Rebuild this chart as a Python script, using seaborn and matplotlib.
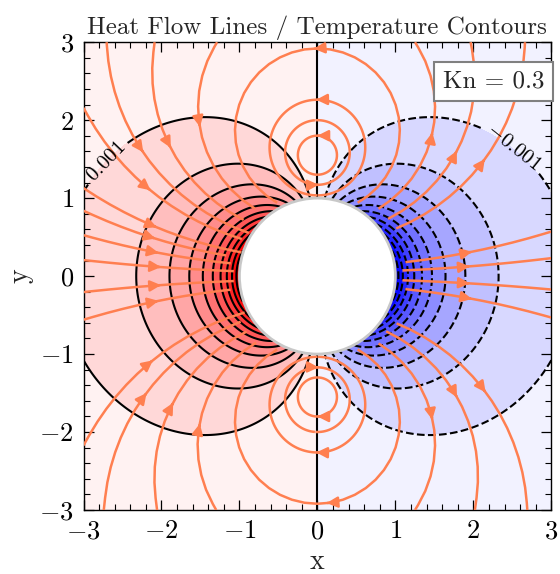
import numpy as np
import matplotlib
matplotlib.use("Agg")
import matplotlib.pyplot as plt
from matplotlib.patches import Circle
from matplotlib.ticker import AutoMinorLocator
import seaborn as sns

# ---- model parameters -------------------------------------------------
knudsen = 0.3
sphere_radius = 1.0
surface_amplitude = 0.0108      # temperature disturbance at the sphere pole
vortex_height = 1.53            # centres of the recirculating heat-flux cells

# contour levels of the temperature disturbance
positive_levels = [0.001, 0.002, 0.003, 0.004, 0.005,
                   0.006, 0.007, 0.008, 0.009, 0.010]
labelled_levels = [-0.001, 0.001]

# seed points of the open heat-flow lines (edge of the box <-> sphere)
seed_x = [-2.07, -2.10, -2.14, -2.12, -2.19, -2.27, -1.91, -1.48,
          -2.07, -2.10, -2.16, -2.23, -1.88, -1.48,
          1.89, 1.92, 1.40, 1.76, 2.11,
          1.89, 1.92, 1.40, 1.76, 2.12,
          0.0, 0.0]
seed_y = [0.12, 0.31, 0.50, 0.65, 1.14, 1.64, 1.70, 1.78,
          -0.12, -0.33, -1.12, -1.55, -1.68, -1.76,
          0.12, 0.30, 1.59, 1.55, 1.45,
          -0.09, -0.28, -1.59, -1.50, -1.44,
          2.92, -2.92]

# seed points of the closed cells around the two vortices
loop_seed_x = [0.0, 0.0, 0.0, 0.0, 0.0, 0.0]
loop_seed_y = [1.30, 2.00, 1.035, -1.30, -2.00, -1.035]

axis_ticks = [-3, -2, -1, 0, 1, 2, 3]

# ---- style --------------------------------------------------------------
sns.set_theme(style="ticks")
plt.rcParams.update({
    "font.family": "serif",
    "font.serif": ["cmr10"],
    "mathtext.fontset": "cm",
    "axes.formatter.use_mathtext": True,
    "axes.unicode_minus": True,
    "axes.edgecolor": "black",
    "axes.linewidth": 1.0,
    "xtick.color": "black",
    "ytick.color": "black",
})

# ---- fields -------------------------------------------------------------
x = np.linspace(-3, 3, 400)
y = np.linspace(-3, 3, 400)
X, Y = np.meshgrid(x, y)
R = np.hypot(X, Y)
outside = R >= sphere_radius

# temperature: dipole disturbance around the sphere (hot side on the left)
T = -surface_amplitude * X * sphere_radius**3 / np.maximum(R, 1e-9) ** 3
T = np.ma.masked_where(~outside, T)

# heat flux: counter-rotating cells above and below the sphere
r1 = X**2 + (Y - vortex_height) ** 2
r2 = X**2 + (Y + vortex_height) ** 2
U = -(Y - vortex_height) / r1 + (Y + vortex_height) / r2
V = X / r1 - X / r2
U = np.ma.masked_where(~outside, U)
V = np.ma.masked_where(~outside, V)

levels = sorted([-v for v in positive_levels]) + [0.0] + positive_levels
plain_levels = [v for v in levels if v not in labelled_levels]
seeds = np.column_stack([seed_x, seed_y])
loop_seeds = np.column_stack([loop_seed_x, loop_seed_y])

# ---- figure -------------------------------------------------------------
fig = plt.figure(figsize=(5.6, 5.74), dpi=100)
ax = fig.add_axes([0.1488, 0.1115, 0.836, 0.815])

ax.contourf(X, Y, T, levels=levels, cmap="bwr", extend="both", zorder=0)
ax.contour(X, Y, T, levels=plain_levels, colors="black", linewidths=1.5,
           zorder=2)
cs_lab = ax.contour(X, Y, T, levels=labelled_levels, colors="black",
                    linewidths=1.5, zorder=2)
ax.clabel(cs_lab, inline=True, fontsize=15,
          fmt=lambda v: rf"${v:.3f}$",
          manual=[(-2.75, 1.5), (2.55, 1.7)])

flow_style = dict(color="coral", linewidth=1.8, arrowsize=1.6, zorder=3)
ax.streamplot(x, y, U, V, start_points=seeds, broken_streamlines=False,
              maxlength=2.0, **flow_style)
# closed cells: each line stops once it has gone round one full turn
ax.streamplot(x, y, U, V, start_points=loop_seeds, density=8,
              broken_streamlines=True, maxlength=2.0, **flow_style)

ax.add_patch(Circle((0, 0), sphere_radius, facecolor="white",
                    edgecolor="#c8c8c8", linewidth=2.0, zorder=5))

ax.set_xlim(-3, 3)
ax.set_ylim(-3, 3)
ax.set_aspect("equal")
ax.set_xticks(axis_ticks)
ax.set_yticks(axis_ticks)
ax.xaxis.set_minor_locator(AutoMinorLocator(5))
ax.yaxis.set_minor_locator(AutoMinorLocator(5))
ax.tick_params(which="both", direction="in", top=True, right=True,
               labelsize=19, pad=7)
ax.tick_params(which="major", length=7, width=0.9)
ax.tick_params(which="minor", length=4, width=0.8)

ax.set_xlabel("x", fontsize=20)
ax.set_ylabel("y", fontsize=20)
ax.set_title("Heat Flow Lines / Temperature Contours", fontsize=18, pad=6)

ax.text(0.985, 0.94, f"Kn = {knudsen}", transform=ax.transAxes,
        ha="right", va="top", fontsize=18, zorder=6,
        bbox=dict(boxstyle="square,pad=0.35", facecolor="white",
                  edgecolor="gray", linewidth=1.5))

fig.savefig("out.png", dpi=100)
